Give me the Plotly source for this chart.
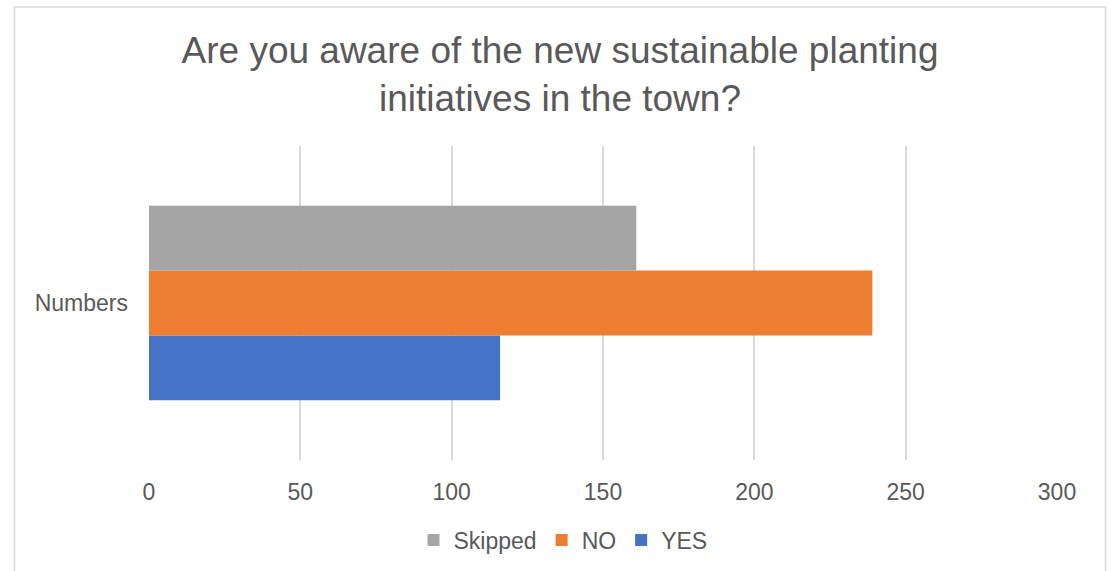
import plotly.graph_objects as go

# Survey responses
category = ["Numbers"]
series_names = ["YES", "NO", "Skipped"]
series_values = {"YES": [116], "NO": [239], "Skipped": [161]}
series_colors = {"YES": "#4472C4", "NO": "#ED7D31", "Skipped": "#A5A5A5"}
x_ticks = [0, 50, 100, 150, 200, 250, 300]

W, H = 1111, 571
L, R, T, B = 149, 54, 146, 111
pw, ph = W - L - R, H - T - B

fig = go.Figure()
for name in series_names:
    fig.add_trace(go.Bar(
        y=category, x=series_values[name], name=name, orientation="h",
        marker=dict(color=series_colors[name], line=dict(width=0)),
    ))

font_fam = "Liberation Sans, Arial, sans-serif"
txt = "#595959"

# outer chart frame
def px_to_paper_x(px):
    return (px - L) / pw

def px_to_paper_y(py):
    return (H - B - py) / ph

fig.add_shape(type="rect", xref="paper", yref="paper",
              x0=px_to_paper_x(14.5), x1=px_to_paper_x(1105.5),
              y0=px_to_paper_y(575), y1=px_to_paper_y(7),
              line=dict(color="#D9D9D9", width=1.5), fillcolor="rgba(0,0,0,0)",
              layer="below")

fig.update_layout(
    width=W, height=H,
    margin=dict(l=L, r=R, t=T, b=B, autoexpand=False),
    paper_bgcolor="white", plot_bgcolor="white",
    barmode="group", bargap=0.38, bargroupgap=0,
    title=dict(
        text="Are you aware of the new sustainable planting<br>initiatives in the town?",
        x=px_to_paper_x(560), xref="paper", xanchor="center",
        y=1 - 63 / H, yref="container", yanchor="middle",
        font=dict(family=font_fam, size=37, color=txt),
    ),
    xaxis=dict(
        range=[0, 300], tickvals=x_ticks, ticktext=[str(v) for v in x_ticks],
        showgrid=True, gridcolor="#D9D9D9", gridwidth=1.5,
        zeroline=False, showline=False, ticks="",
        tickfont=dict(family=font_fam, size=23, color=txt),
        ticklabelstandoff=16, fixedrange=True,
    ),
    yaxis=dict(
        showgrid=False, zeroline=False, showline=False, ticks="",
        tickfont=dict(family=font_fam, size=23, color=txt),
        ticklabelstandoff=20, fixedrange=True,
    ),
    legend=dict(
        orientation="h", traceorder="reversed",
        x=px_to_paper_x(563), xanchor="center",
        y=px_to_paper_y(540), yanchor="middle",
        font=dict(family=font_fam, size=23, color=txt),
        itemwidth=30, tracegroupgap=0,
    ),
    showlegend=True,
)

fig.write_html("out.html")
